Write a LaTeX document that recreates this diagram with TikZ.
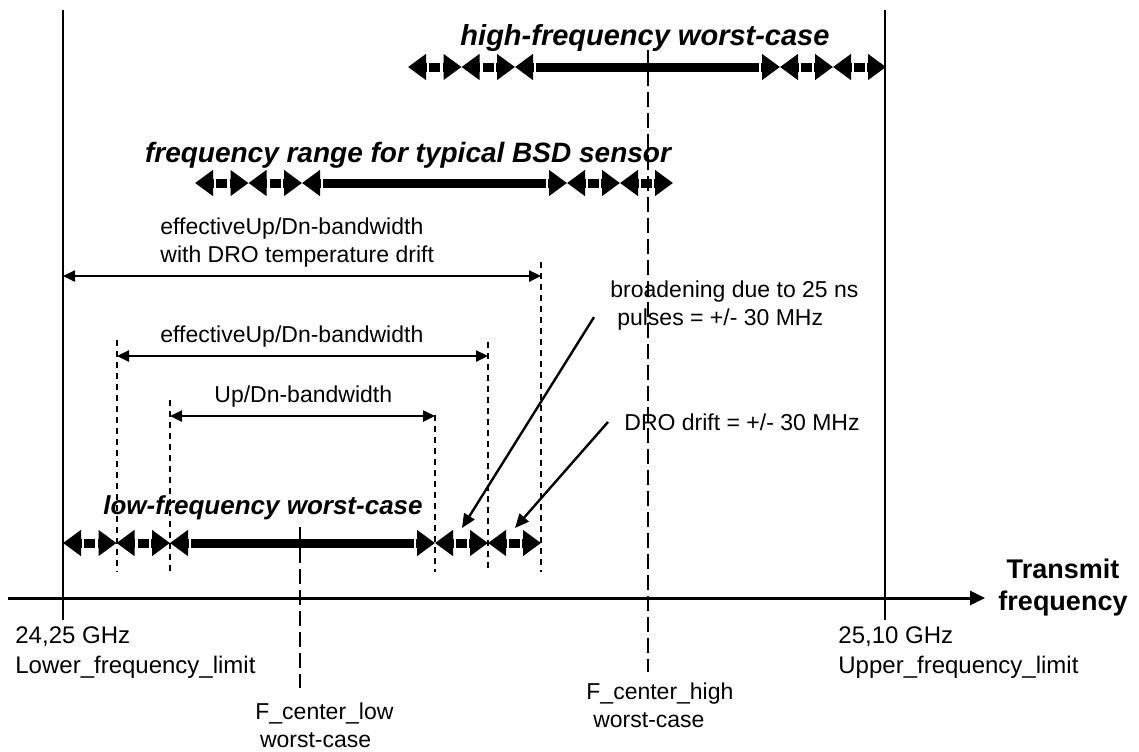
\documentclass[tikz,border=0pt]{standalone}
\usepackage{fontspec}
\setmainfont{Liberation Sans}
\usetikzlibrary{arrows.meta, positioning, calc}

% one frequency range bar: #1 = left end x, #2 = y
\newcommand\freqbar[2]{%
  \foreach \a/\b in {0/53.5, 53.5/107, 107/372, 372/425, 425/478}{
    \draw[barpiece] (#1+\a,#2) -- (#1+\b,#2);
    \draw[gap] (#1+\a+20,#2-4.5) -- (#1+\a+20,#2+4.5);
    \draw[gap] (#1+\b-20,#2-4.5) -- (#1+\b-20,#2+4.5);
  }}

\begin{document}
\begin{tikzpicture}[
    x=0.5pt, y=-0.5pt,
    font=\fontsize{11.5}{14}\selectfont,
    >=Stealth,
    % --- lines ---
    limit/.style={line width=0.6pt},
    faxis/.style={line width=1.5pt, -{Triangle[length=7.5pt, width=7pt]}},
    fcenter/.style={line width=1.2pt, dash pattern=on 7.5pt off 3pt},
    bandedge/.style={line width=1pt, dash pattern=on 3pt off 2.5pt},
    bw/.style={line width=1.2pt, {Triangle[length=6pt, width=5.5pt]}-{Triangle[length=6pt, width=5.5pt]}},
    note/.style={line width=1.2pt, -{Triangle[length=7pt, width=6pt]}},
    % --- pieces of the range bars ---
    barpiece/.style={line width=4.5pt, {Triangle[length=9pt, width=12.5pt]}-{Triangle[length=9pt, width=12.5pt]}},
    gap/.style={white, line width=1.2pt},
    % --- texts ---
    title/.style={font=\fontsize{14.5}{17}\selectfont\bfseries\itshape},
    lbl/.style={inner sep=1pt, align=left},
    edgelbl/.style={inner sep=1pt, align=left, font=\fontsize{12}{15}\selectfont}
]
\useasboundingbox (0,0) rectangle (1139,751);

% ==================== 1. limits and axis ====================
\coordinate (lowtop) at (63,10);
\coordinate (lowbot) at (63,620);
\coordinate (uptop) at (885,10);
\coordinate (upbot) at (885,620);
\draw[limit] (lowtop) -- (lowbot);
\draw[limit] (uptop) -- (upbot);

\coordinate (axstart) at (8,598);
\coordinate (axend) at (985,598);
\draw[faxis] (axstart) -- (axend);
\node[font=\fontsize{13.5}{16}\selectfont\bfseries, align=center] (txaxis) at (1063,588) {Transmit\\frequency};

\node[edgelbl, anchor=north west] (lowlbl) at (13,624) {24,25 GHz\\Lower\_frequency\_limit};
\node[edgelbl, anchor=north west] (uplbl) at (836,624) {25,10 GHz\\Upper\_frequency\_limit};

% ==================== 2. range bars ====================
\node[title] (hightitle) at (645,38) {high-frequency worst-case};
\freqbar{408}{67}

\node[title, font=\fontsize{14}{17}\selectfont\bfseries\itshape] (bsdtitle) at (408,155) {frequency range for typical BSD sensor};
\freqbar{195}{183}

\node[title, font=\fontsize{13}{16}\selectfont\bfseries\itshape] (lowtitle) at (263,508) {low-frequency worst-case};
\freqbar{63}{543}

% ==================== 3. centre frequencies ====================
\node[lbl, anchor=north west] (fclow) at (253,700) {F\_center\_low\\\hspace{0.2em}worst-case};
\node[lbl, anchor=north west] (fchigh) at (584,680) {F\_center\_high\\\hspace{0.3em}worst-case};
\coordinate (fclowtop) at (300,527);
\coordinate (fchightop) at (648,50);
\draw[fcenter] (fclowtop) -- (fclowtop |- 0,688);
\draw[fcenter] (fchightop) -- (fchightop |- 0,672);

% ==================== 4. bandwidths ====================
\coordinate (eA) at (541,262);
\coordinate (eB1) at (117,340);
\coordinate (eB2) at (488,342);
\coordinate (eC1) at (170,400);
\coordinate (eC2) at (435,415);
\foreach \e in {eA, eB1, eB2, eC1, eC2}
  \draw[bandedge] (\e) -- (\e |- 0,572);

\draw[bw] (63,276) -- (eA |- 0,276);
\node[lbl, anchor=south west] (bwA) at (158,270) {effectiveUp/Dn-bandwidth\\with DRO temperature drift};

\draw[bw] (eB1 |- 0,356) -- (eB2 |- 0,356);
\node[lbl, anchor=south west] (bwB) at (158,350) {effectiveUp/Dn-bandwidth};

\draw[bw] (eC1 |- 0,416) -- (eC2 |- 0,416);
\node[lbl, anchor=south west] (bwC) at (212,410) {Up/Dn-bandwidth};

% ==================== 5. notes ====================
\node[lbl, anchor=north west] (broad) at (608,278) {broadening due to 25 ns\\\hspace{0.3em}pulses = +/- 30 MHz};
\node[lbl, anchor=west] (dro) at (622,422) {DRO drift = +/- 30 MHz};
\coordinate (tgtbroad) at (462,528);
\coordinate (tgtdro) at (515,528);
\draw[note] ($(broad.west)+(-14,12)$) -- (tgtbroad);
\draw[note] ($(dro.west)+(-14,0)$) -- (tgtdro);

\end{tikzpicture}
\end{document}
